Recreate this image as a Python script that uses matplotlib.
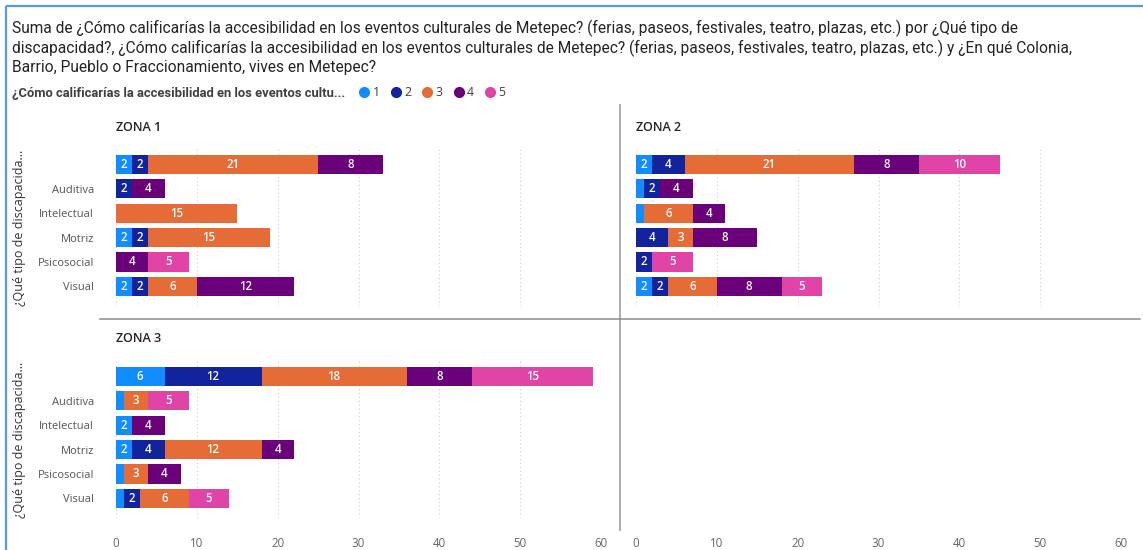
import numpy as np
import matplotlib
matplotlib.use("Agg")
import matplotlib.pyplot as plt
from matplotlib.lines import Line2D

W, H = 1143, 550

TITULO = ("Suma de ¿Cómo calificarías la accesibilidad en los eventos culturales de Metepec? "
          "(ferias, paseos, festivales, teatro, plazas, etc.) por ¿Qué tipo de\n"
          "discapacidad?, ¿Cómo calificarías la accesibilidad en los eventos culturales de Metepec? "
          "(ferias, paseos, festivales, teatro, plazas, etc.) y ¿En qué Colonia,\n"
          "Barrio, Pueblo o Fraccionamiento, vives en Metepec?")
LEYENDA = "¿Cómo calificarías la accesibilidad en los eventos cultu..."
EJE_Y = "¿Qué tipo de discapacida..."

categorias = ["", "Auditiva", "Intelectual", "Motriz", "Psicosocial", "Visual"]
calificaciones = ["1", "2", "3", "4", "5"]
colores = ["#118DFF", "#12239E", "#E66C37", "#6B007B", "#E044A7"]
xticks = [0, 10, 20, 30, 40, 50, 60]

# suma por calificación 1..5 (filas) y tipo de discapacidad (columnas)
zona1 = [[2, 0, 0, 2, 0, 2],
         [2, 2, 0, 2, 0, 2],
         [21, 0, 15, 15, 0, 6],
         [8, 4, 0, 0, 4, 12],
         [0, 0, 0, 0, 5, 0]]
zona2 = [[2, 1, 1, 0, 0, 2],
         [4, 2, 0, 4, 2, 2],
         [21, 0, 6, 3, 0, 6],
         [8, 4, 4, 8, 0, 8],
         [10, 0, 0, 0, 5, 5]]
zona3 = [[6, 1, 2, 2, 1, 1],
         [12, 0, 0, 4, 0, 2],
         [18, 3, 0, 12, 3, 6],
         [8, 0, 4, 4, 4, 0],
         [15, 5, 0, 0, 0, 5]]

plt.rcParams["font.family"] = ["Open Sans", "DejaVu Sans"]


def rect(l, t, r, b):
    return [l / W, 1 - b / H, (r - l) / W, (b - t) / H]


fig = plt.figure(figsize=(W / 100, H / 100), dpi=100, facecolor="white")

# marco y separadores
bg = fig.add_axes([0, 0, 1, 1], zorder=-5)
bg.set_xlim(0, W); bg.set_ylim(H, 0); bg.axis("off")
bg.plot([6, 6], [6, H], color="#5B9BD5", lw=1.6, solid_capstyle="butt")
bg.plot([6, W], [6, 6], color="#5B9BD5", lw=1.6, solid_capstyle="butt")
bg.plot([620, 620], [105, 530], color="#a6a6a6", lw=1.3)
bg.plot([100, 1140], [319, 319], color="#8c8c8c", lw=1.1)

fig.text(12 / W, 1 - 20 / H, TITULO, ha="left", va="top", fontsize=11.2,
         color="#252423", linespacing=1.22, family=["Roboto", "DejaVu Sans"])
fig.text(12 / W, 1 - 93 / H, LEYENDA, ha="left", va="center", fontsize=9.4,
         color="#404040", fontweight="semibold", family=["Roboto", "DejaVu Sans"])
handles = [Line2D([], [], marker="o", ls="", color=c, markersize=7) for c in colores]
fig.legend(handles, calificaciones, loc="center left", bbox_to_anchor=(352 / W, 1 - 93 / H),
           ncol=5, frameon=False, fontsize=8.8, handletextpad=-0.3, columnspacing=0.3,
           borderaxespad=0, borderpad=0, labelcolor="#404040")


def panel(ax, datos, titulo, tick_labels):
    y = np.arange(len(categorias))
    left = np.zeros(len(categorias))
    for k, vals in enumerate(datos):
        vals = np.asarray(vals, float)
        bars = ax.barh(y, vals, left=left, height=0.78, color=colores[k], zorder=2,
                       linewidth=0)
        ax.bar_label(bars, labels=[f"{v:g}" if v >= 2 else "" for v in vals],
                     label_type="center", color="white", fontsize=8.3,
                     fontweight="semibold")
        left += vals
    ax.set_xlim(0, 60)
    ax.set_ylim(5.8, -0.7)
    ax.set_xticks(xticks)
    ax.grid(axis="x", ls=(0, (1, 2.5)), color="#cfcfcf", lw=0.8, zorder=0)
    for s in ax.spines.values():
        s.set_visible(False)
    ax.set_yticks(y)
    ax.set_yticklabels(categorias, fontsize=8, color="#555555")
    ax.tick_params(length=0, pad=16, axis="y")
    ax.tick_params(length=0, axis="x", labelsize=8.3, labelcolor="#666666", pad=14,
                   labelbottom=tick_labels)
    ax.annotate(titulo, xy=(0, 1), xycoords="axes fraction", xytext=(0, 20),
                textcoords="offset pixels", fontsize=9, color="#252423",
                fontweight="semibold", va="center", ha="left")


ax1 = fig.add_axes(rect(116, 147, 601, 306))
ax2 = fig.add_axes(rect(636, 147, 1121, 306))
ax3 = fig.add_axes(rect(116, 359, 601, 518))
ax4 = fig.add_axes(rect(636, 359, 1121, 518))

panel(ax1, zona1, "ZONA 1", False)
panel(ax2, zona2, "ZONA 2", False)
panel(ax3, zona3, "ZONA 3", True)
ax2.set_yticklabels([])

ax4.set_xlim(0, 60); ax4.set_xticks(xticks); ax4.set_yticks([])
for s in ax4.spines.values():
    s.set_visible(False)
ax4.tick_params(length=0, axis="x", labelsize=8.3, labelcolor="#666666", pad=14)
ax4.patch.set_alpha(0)

for yc in (228, 440):
    fig.text(20 / W, 1 - yc / H, EJE_Y, rotation=90, ha="center", va="center",
             fontsize=9, color="#333333")

fig.savefig("out.png", dpi=100, facecolor="white")
